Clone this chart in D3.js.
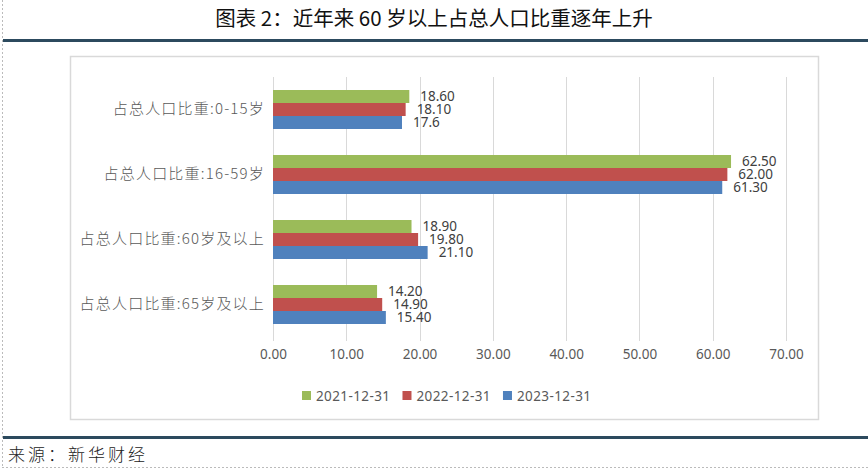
<!DOCTYPE html>
<html>
<head>
<meta charset="utf-8">
<script src="https://cdn.jsdelivr.net/npm/d3@7"></script>
<style>
  html, body { margin: 0; padding: 0; background: #fff; }
  svg { display: block; }
</style>
</head>
<body>
<div id="chart"></div>
<script>
// Categories (top to bottom)
const categories = ["占总人口比重:0-15岁", "占总人口比重:16-59岁", "占总人口比重:60岁及以上", "占总人口比重:65岁及以上"];
// Series names
const seriesNames = ["2021-12-31", "2022-12-31", "2023-12-31"];
// Values per series
const values2021 = [18.60, 62.50, 18.90, 14.20];
const values2022 = [18.10, 62.00, 19.80, 14.90];
const values2023 = [17.6, 61.30, 21.10, 15.40];
// Value labels as printed
const labels2021 = ["18.60", "62.50", "18.90", "14.20"];
const labels2022 = ["18.10", "62.00", "19.80", "14.90"];
const labels2023 = ["17.6", "61.30", "21.10", "15.40"];
// X axis ticks
const xTicks = [0, 10, 20, 30, 40, 50, 60, 70];

const colors = ["#9bbb59", "#c0504d", "#4f81bd"];
const W = 868, H = 472;

const svg = d3.select("#chart").append("svg")
  .attr("width", W).attr("height", H);

// page frame (dashed)
svg.append("line").attr("x1", 2.5).attr("x2", 2.5).attr("y1", 0).attr("y2", 467)
  .attr("stroke", "#bbb").attr("stroke-dasharray", "2,2");
svg.append("line").attr("x1", 2).attr("x2", W).attr("y1", 467.5).attr("y2", 467.5)
  .attr("stroke", "#bbb").attr("stroke-dasharray", "2,2");

// title
svg.append("text")
  .attr("x", 434).attr("y", 26)
  .attr("text-anchor", "middle")
  .attr("font-family", "'Noto Sans CJK SC', sans-serif")
  .attr("font-size", 20.5)
  .attr("fill", "#111")
  .text("图表 2：近年来 60 岁以上占总人口比重逐年上升");

// dark rules
svg.append("rect").attr("x", 3).attr("y", 39).attr("width", W - 3).attr("height", 3).attr("fill", "#2c4a5e");
svg.append("rect").attr("x", 3).attr("y", 436).attr("width", W - 3).attr("height", 3).attr("fill", "#2c4a5e");

// footer
svg.append("text")
  .attr("x", 8).attr("y", 461)
  .attr("font-family", "'Noto Sans CJK SC', sans-serif")
  .attr("font-size", 17)
  .attr("letter-spacing", 3)
  .attr("font-weight", 300)
  .attr("fill", "#222")
  .text("来源：新华财经");

// chart box
svg.append("rect")
  .attr("x", 70.5).attr("y", 56.5).attr("width", 748).attr("height", 363)
  .attr("fill", "#fff").attr("stroke", "#d9d9d9").attr("stroke-width", 1.5);

// plot area
const margin = { left: 273, top: 77 };
const width = 786 - 273, height = 260;
const g = svg.append("g").attr("transform", `translate(${margin.left},${margin.top})`);

const x = d3.scaleLinear().domain([0, 70]).range([0, width]);
const y = d3.scaleBand().domain(categories).range([0, height]).paddingInner(0.4).paddingOuter(0.2);
const inner = d3.scaleBand().domain(seriesNames).range([0, y.bandwidth()]);

// gridlines
g.append("g")
  .selectAll("line")
  .data(xTicks)
  .join("line")
  .attr("x1", d => Math.round(x(d)) + 0.5).attr("x2", d => Math.round(x(d)) + 0.5)
  .attr("y1", 0).attr("y2", height + 4)
  .attr("stroke", "#d9d9d9");

// x axis labels
const xAxis = g.append("g")
  .attr("transform", `translate(0,${height})`)
  .call(d3.axisBottom(x).tickValues(xTicks).tickFormat(d3.format(".2f")).tickSize(0).tickPadding(12));
xAxis.select(".domain").remove();
xAxis.selectAll("text")
  .attr("font-family", "'Noto Sans', sans-serif")
  .attr("font-size", 13.5)
  .attr("fill", "#595959");

// y axis labels
const yAxis = g.append("g")
  .call(d3.axisLeft(y).tickSize(0).tickPadding(8));
yAxis.select(".domain").remove();
yAxis.selectAll("text")
  .attr("font-family", "'Noto Sans CJK SC', sans-serif")
  .attr("font-size", 15)
  .attr("font-weight", 300)
  .attr("letter-spacing", 1.2)
  .attr("fill", "#595959");

// bars
const series = [
  { name: seriesNames[0], values: values2021, labels: labels2021, color: colors[0] },
  { name: seriesNames[1], values: values2022, labels: labels2022, color: colors[1] },
  { name: seriesNames[2], values: values2023, labels: labels2023, color: colors[2] }
];

series.forEach(s => {
  const rows = categories.map((c, i) => ({ cat: c, v: s.values[i], label: s.labels[i] }));
  g.append("g").selectAll("rect")
    .data(rows)
    .join("rect")
    .attr("x", 0)
    .attr("y", d => y(d.cat) + inner(s.name))
    .attr("width", d => x(d.v))
    .attr("height", inner.bandwidth())
    .attr("fill", s.color);
  g.append("g").selectAll("text")
    .data(rows)
    .join("text")
    .attr("x", d => x(d.v) + 11)
    .attr("y", d => y(d.cat) + inner(s.name) + inner.bandwidth() / 2)
    .attr("dy", "0.35em")
    .attr("font-family", "'Noto Sans', sans-serif")
    .attr("font-size", 13.5)
    .attr("fill", "#404040")
    .text(d => d.label);
});

// legend
const legend = svg.append("g").attr("transform", "translate(302,396)");
let lx = 0;
series.forEach(s => {
  const item = legend.append("g").attr("transform", `translate(${lx},0)`);
  item.append("rect").attr("x", 0).attr("y", -5).attr("width", 9).attr("height", 9).attr("fill", s.color);
  const t = item.append("text")
    .attr("x", 14).attr("y", 0).attr("dy", "0.35em")
    .attr("font-family", "'Noto Sans', sans-serif")
    .attr("font-size", 13.5)
    .attr("letter-spacing", 0.4)
    .attr("fill", "#595959")
    .text(s.name);
  lx += 14 + t.node().getComputedTextLength() + 12;
});
</script>
</body>
</html>
